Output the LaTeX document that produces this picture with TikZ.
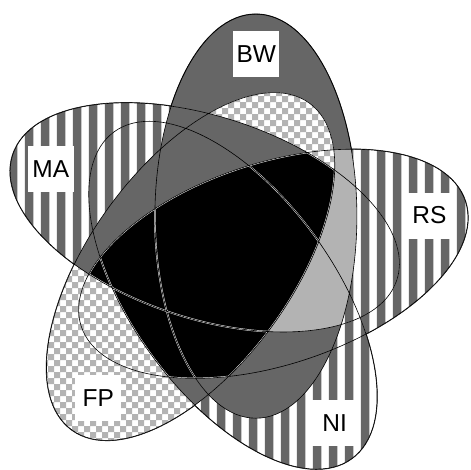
\documentclass[tikz,border=0pt]{standalone}
\usepackage{fontspec}
\setmainfont{Liberation Sans}
\definecolor{dg}{HTML}{666666}
\definecolor{lg}{HTML}{B3B3B3}
\newcommand\eBW{(255.9,-216.2) circle[x radius=202pt, y radius=101pt, rotate=90]}
\newcommand\eRS{(273.3,-263.8) circle[x radius=202pt, y radius=101pt, rotate=18]}
\newcommand\eNI{(232.9,-295.2) circle[x radius=202pt, y radius=101pt, rotate=-54]}
\newcommand\eFP{(190.6,-266.5) circle[x radius=202pt, y radius=101pt, rotate=-126]}
\newcommand\eMA{(204.8,-217.4) circle[x radius=202pt, y radius=101pt, rotate=162]}
\newcommand\allE{\eBW \eRS \eNI \eFP \eMA}
\newcommand\CB{\clip\eBW;}
\newcommand\CR{\clip\eRS;}
\newcommand\CN{\clip\eNI;}
\newcommand\CF{\clip\eFP;}
\newcommand\CM{\clip\eMA;}
\newcommand\fDG{\fill[dg] (-5,5) rectangle (476,-474);}
\newcommand\fLG{\fill[lg] (-5,5) rectangle (476,-474);}
\newcommand\fBK{\fill[black] (-5,5) rectangle (476,-474);\draw[white,line width=1.5pt]\allE;}
\newcommand\fST{\fill[white] (-5,5) rectangle (476,-474);\fill[dg]\foreach \i in {0,...,29}{({8.8+16*\i},5) rectangle ++(8.6,-480)};}
\newcommand\fCK{\fill[white] (-5,5) rectangle (476,-474);\fill[lg,even odd rule]\foreach \i in {0,...,39}{({\i*12},5) rectangle ++(6,-480)}\foreach \j in {0,...,39}{(-5,{-\j*12}) rectangle ++(481,-6)};}
\newcommand\rgn[2]{\begin{scope}#1#2\end{scope}}
\begin{document}
\begin{tikzpicture}[x=1pt,y=1pt,
  lbl/.style={fill=white, minimum width=46pt, minimum height=46pt, inner sep=0pt, font=\fontsize{24.5}{24.5}\selectfont}]
\useasboundingbox (0,0) rectangle (471,-469);
\draw[line width=1.3pt] \allE;
% singles
\rgn{\CB}{\fDG}
\rgn{\CR}{\fST}
\rgn{\CN}{\fST}
\rgn{\CF}{\fCK}
\rgn{\CM}{\fST}
% pairs
\rgn{\CB\CR}{\fLG}
\rgn{\CR\CN}{\fST}
\rgn{\CN\CF}{\fDG}
\rgn{\CF\CM}{\fDG}
\rgn{\CM\CB}{\fDG}
\rgn{\CM\CR}{\fST}
\rgn{\CB\CN}{\fDG}
\rgn{\CR\CF}{\fCK}
\rgn{\CN\CM}{\fST}
\rgn{\CF\CB}{\fCK}
% triples
\rgn{\CR\CN\CF}{\fBK}
\rgn{\CN\CF\CM}{\fDG}
\rgn{\CF\CM\CB}{\fDG}
\rgn{\CM\CB\CR}{\fLG}
\rgn{\CB\CR\CN}{\fDG}
\rgn{\CB\CR\CF}{\fCK}
\rgn{\CR\CN\CM}{\fST}
\rgn{\CN\CF\CB}{\fDG}
\rgn{\CF\CM\CR}{\fBK}
\rgn{\CM\CB\CN}{\fDG}
% quads
\rgn{\CB\CR\CF\CM}{\fBK}
\rgn{\CB\CM\CF\CN}{\fDG}
\rgn{\CB\CR\CN\CM}{\fLG}
\rgn{\CB\CR\CN\CF}{\fBK}
\rgn{\CR\CN\CF\CM}{\fBK}
% all five
\rgn{\CB\CR\CN\CF\CM}{\fBK}
\draw[line width=0.6pt] \allE;
\node[lbl] (bw) at (256.3,-54.2) {BW};
\node[lbl] (ma) at (50.8,-169.2) {MA};
\node[lbl] (rs) at (429.5,-215.5) {RS};
\node[lbl] (ni) at (334.6,-423.3) {NI};
\node[lbl] (fp) at (98.3,-398) {FP};
\end{tikzpicture}
\end{document}
